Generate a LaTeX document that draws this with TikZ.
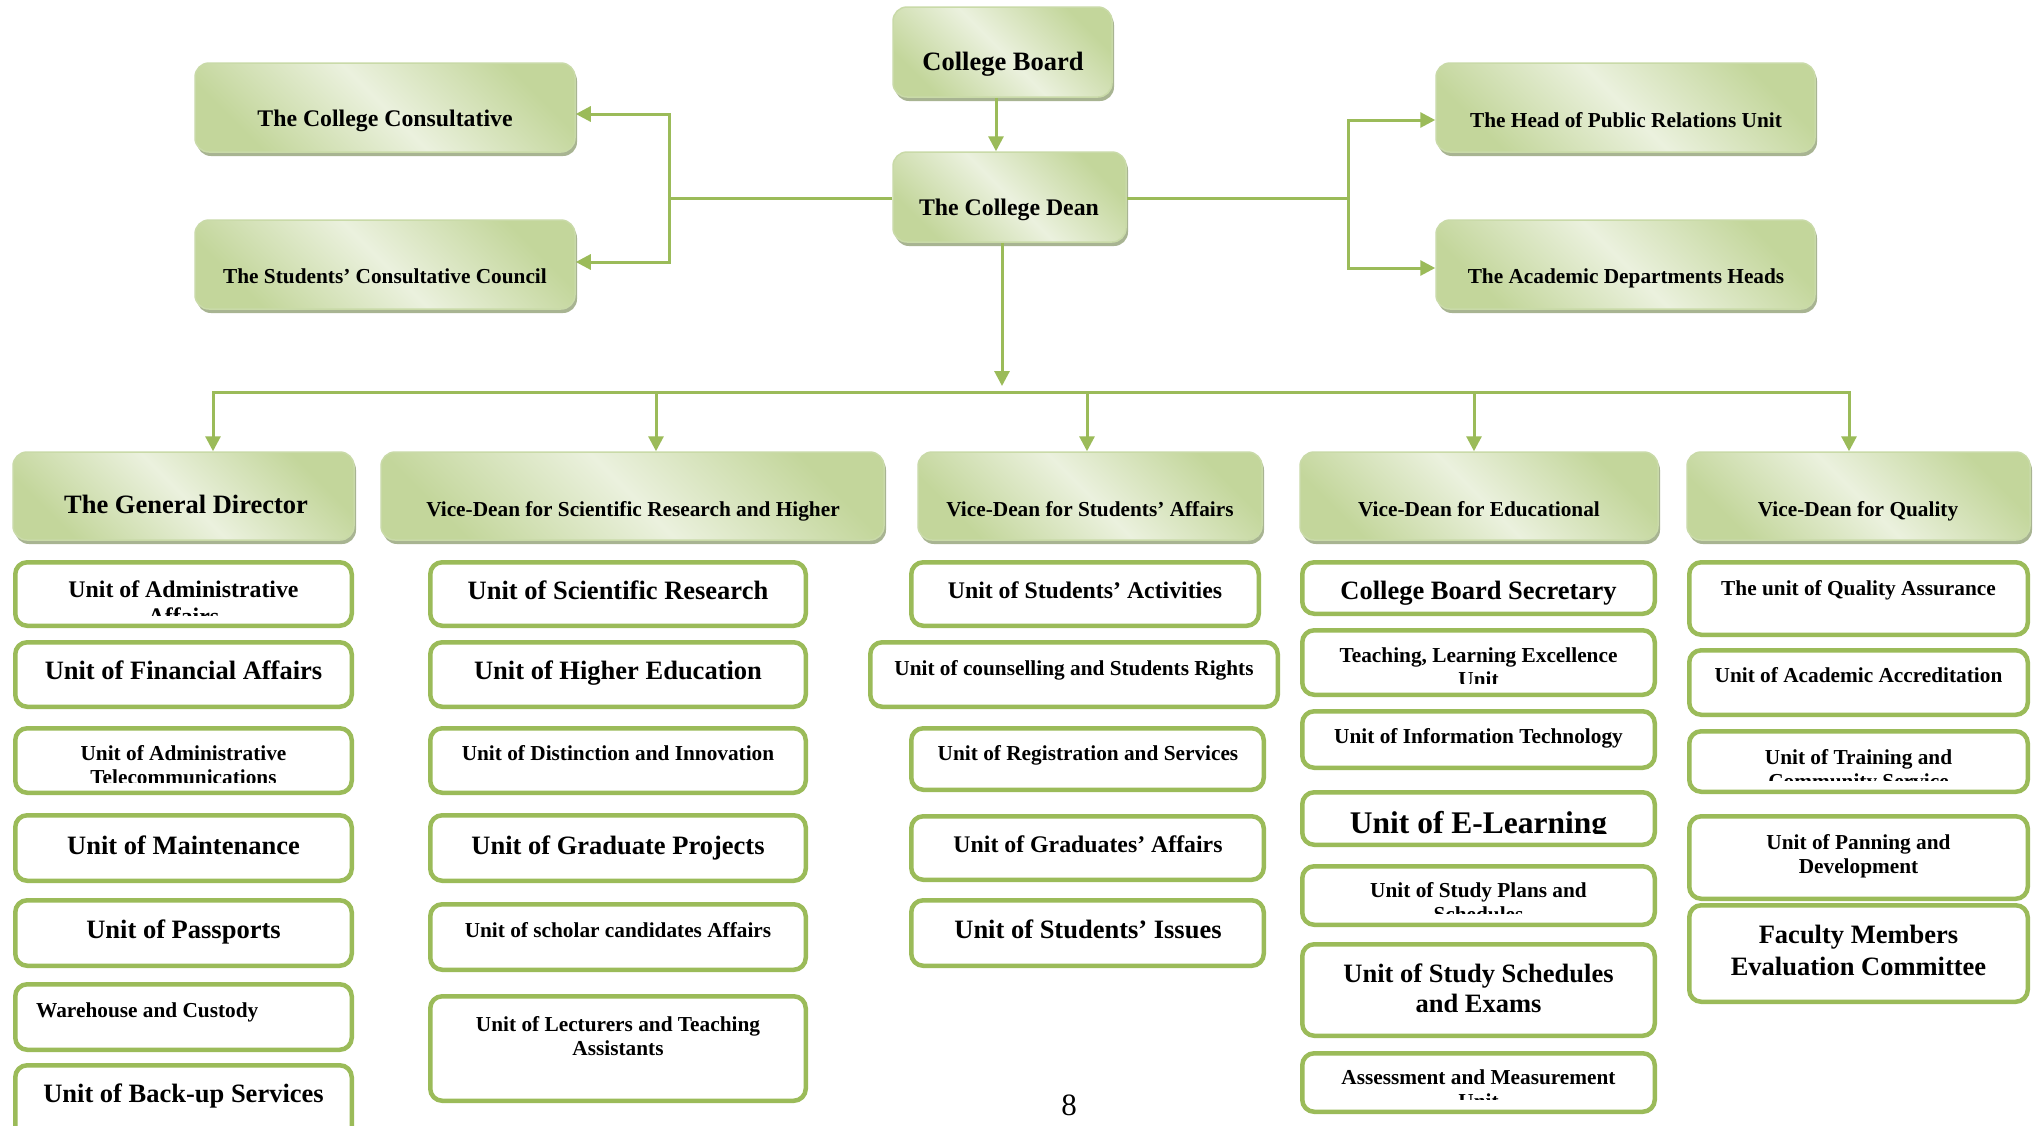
\documentclass[tikz,border=0pt]{standalone}
\usepackage{fontspec}
\setmainfont{Liberation Serif}
\usetikzlibrary{arrows.meta,shadows}
\definecolor{ol}{HTML}{9BBB59}
\definecolor{gdark}{HTML}{C3D69B}
\definecolor{glight}{HTML}{EBF1DE}
\definecolor{gshadow}{HTML}{A8B492}
\definecolor{gedge}{HTML}{C9DAA8}
\pgfdeclareverticalshading{gshade}{100bp}{color(0bp)=(gdark); color(25bp)=(gdark); color(50bp)=(glight); color(75bp)=(gdark); color(100bp)=(gdark)}
\newcommand\twol[2]{\begin{tabular}[t]{@{}c@{}}#1\\#2\end{tabular}}
\newcommand\GB[5]{\node[gbox, minimum width={#4-#2}, minimum height={#5-#3}] (#1) at ({(#2+#4)/2},{(#3+#5)/2}) {};}
\newcommand\WB[5]{\node[wbox, minimum width={#4-#2-4.5}, minimum height={#5-#3-4.5}] (#1) at ({(#2+#4)/2},{(#3+#5)/2}) {};}
\newcommand\TX[5]{\node[txt,#1,anchor=base] (#2) at (#3,#4) {#5};}
\newcommand\CT[9]{\begin{scope}\clip (#6,#7) rectangle (#8,#9);\node[txt,#1,anchor=base] (#2) at (#3,#4) {#5};\end{scope}}
\tikzset{
 conn/.style={draw=ol, line width=3pt},
 arr/.style={conn, -{Triangle[length=15pt,width=15pt]}},
 gbox/.style={rounded corners=14pt, draw=gedge, line width=1.5pt, shade, shading=gshade, shading angle=-45, inner sep=0pt,
   drop shadow={shadow xshift=2pt, shadow yshift=-4pt, fill=gshadow, opacity=1}},
 wbox/.style={rounded corners=12pt, draw=ol, line width=4.5pt, fill=white, inner sep=0pt},
 txt/.style={inner sep=0pt},
 fa/.style={font=\fontsize{21.3}{24.5}\selectfont\bfseries},
 fb/.style={font=\fontsize{23.8}{27}\selectfont\bfseries},
 fc/.style={font=\fontsize{26.5}{30.5}\selectfont\bfseries},
 fe/.style={font=\fontsize{26.5}{32}\selectfont\bfseries},
 fd/.style={font=\fontsize{31.5}{36}\selectfont\bfseries},
}
\begin{document}
\begin{tikzpicture}[x=1pt,y=-1pt]
\useasboundingbox (0,0) rectangle (2038,1125);
\clip (0,0) rectangle (2038,1125);
\fill[white] (0,0) rectangle (2038,1125);

% ---- top level
\GB{board}{893}{7}{1112}{97}
\TX{fc}{boardt}{1003}{70}{College Board}
\GB{dean}{893}{152}{1126}{242}
\TX{fb}{deant}{1009}{215}{The College Dean}
\GB{cons}{195}{63}{575}{152}
\TX{fb}{const}{385}{126}{The College Consultative}
\GB{stud}{195}{220}{575}{309}
\TX{fa}{studt}{385}{283}{The Students’ Consultative Council}
\GB{pr}{1436}{63}{1815}{152}
\TX{fa}{prt}{1626}{127}{The Head of Public Relations Unit}
\GB{acad}{1436}{220}{1815}{309}
\TX{fa}{acadt}{1626}{283}{The Academic Departments Heads}

% ---- second level
\GB{g1}{13}{452}{354}{540}
\TX{fc}{g1t}{186}{513}{The General Director}
\GB{g2}{381}{452}{884}{540}
\TX{fa}{g2t}{633}{516}{Vice-Dean for Scientific Research and Higher}
\GB{g3}{918}{452}{1262}{540}
\TX{fa}{g3t}{1090}{516}{Vice-Dean for Students’ Affairs}
\GB{g4}{1300}{452}{1658}{540}
\TX{fa}{g4t}{1479}{516}{Vice-Dean for Educational}
\GB{g5}{1687}{452}{2030}{540}
\TX{fa}{g5t}{1858}{516}{Vice-Dean for Quality}

% ---- column 1
\WB{a1}{13}{560}{354}{628}
\CT{fb}{a1t}{183.5}{597}{\twol{Unit of Administrative}{Affairs}}{15}{562}{352}{615}
\WB{a2}{13}{640}{354}{709}
\TX{fc}{a2t}{183.5}{679}{Unit of Financial Affairs}
\WB{a3}{13}{726}{354}{795}
\CT{fa}{a3t}{183.5}{760}{\twol{Unit of Administrative}{Telecommunications}}{15}{728}{352}{782}
\WB{a4}{13}{813}{354}{883}
\TX{fc}{a4t}{183.5}{854}{Unit of Maintenance}
\WB{a5}{13}{898}{354}{968}
\TX{fc}{a5t}{183.5}{938}{Unit of Passports}
\WB{a6}{13}{982}{354}{1052}
\node[txt,fa,anchor=base west] (a6t) at (36,1017) {Warehouse and Custody};
\WB{a7}{13}{1063}{354}{1145}
\TX{fc}{a7t}{183.5}{1102}{Unit of Back-up Services}

% ---- column 2
\WB{b1}{428}{560}{808}{628}
\TX{fc}{b1t}{618}{599}{Unit of Scientific Research}
\WB{b2}{428}{640}{808}{709}
\TX{fc}{b2t}{618}{679}{Unit of Higher Education}
\WB{b3}{428}{726}{808}{795}
\TX{fa}{b3t}{618}{760}{Unit of Distinction and Innovation}
\WB{b4}{428}{813}{808}{883}
\TX{fc}{b4t}{618}{854}{Unit of Graduate Projects}
\WB{b5}{428}{902}{808}{972}
\TX{fa}{b5t}{618}{937}{Unit of scholar candidates Affairs}
\WB{b6}{428}{994}{808}{1103}
\TX{fa}{b6t}{618}{1031}{\twol{Unit of Lecturers and Teaching}{Assistants}}

% ---- column 3
\WB{c1}{909}{560}{1261}{628}
\TX{fb}{c1t}{1085}{598}{Unit of Students’ Activities}
\WB{c2}{868}{640}{1280}{709}
\TX{fa}{c2t}{1074}{675}{Unit of counselling and Students Rights}
\WB{c3}{909}{726}{1266}{792}
\TX{fa}{c3t}{1088}{760}{Unit of Registration and Services}
\WB{c4}{909}{814}{1266}{882}
\TX{fb}{c4t}{1088}{852}{Unit of Graduates’ Affairs}
\WB{c5}{909}{898}{1266}{968}
\TX{fc}{c5t}{1088}{938}{Unit of Students’ Issues}

% ---- column 4
\WB{d1}{1300}{560}{1657}{616}
\TX{fc}{d1t}{1478.5}{599}{College Board Secretary}
\WB{d2}{1300}{628}{1657}{697}
\CT{fa}{d2t}{1478.5}{662}{\twol{Teaching, Learning Excellence}{Unit}}{1302}{630}{1655}{683}
\WB{d3}{1300}{709}{1657}{770}
\TX{fa}{d3t}{1478.5}{743}{Unit of Information Technology}
\WB{d4}{1300}{790}{1657}{847}
\CT{fd}{d4t}{1478.5}{833}{Unit of E-Learning}{1302}{792}{1655}{833}
\WB{d5}{1300}{864}{1657}{927}
\CT{fa}{d5t}{1478.5}{897}{\twol{Unit of Study Plans and}{Schedules}}{1302}{866}{1655}{913}
\WB{d6}{1300}{942}{1657}{1038}
\TX{fc}{d6t}{1478.5}{982}{\twol{Unit of Study Schedules}{and Exams}}
\WB{d7}{1300}{1051}{1657}{1114}
\CT{fa}{d7t}{1478.5}{1084}{\twol{Assessment and Measurement}{Unit}}{1302}{1053}{1655}{1099}

% ---- column 5
\WB{e1}{1687}{560}{2030}{637}
\TX{fa}{e1t}{1858.5}{595}{The unit of Quality Assurance}
\WB{e2}{1687}{648}{2030}{717}
\TX{fa}{e2t}{1858.5}{682}{Unit of Academic Accreditation}
\WB{e3}{1687}{729}{2030}{794}
\CT{fa}{e3t}{1858.5}{764}{\twol{Unit of Training and}{Community Service}}{1689}{731}{2028}{780}
\WB{e4}{1687}{814}{2030}{901}
\TX{fa}{e4t}{1858.5}{849}{\twol{Unit of Panning and}{Development}}
\WB{e5}{1687}{903}{2030}{1004}
\TX{fe}{e5t}{1858.5}{943}{\twol{Faculty Members}{Evaluation Committee}}

% ---- page number
\node[txt, font=\fontsize{31}{36}\selectfont, anchor=base] (pg) at (1069,1115) {8};

% ---- connectors
\coordinate (lj) at (669,198);
\coordinate (rj) at (1348,198);
\draw[arr] ([xshift=-6.5pt]board.south) -- ([xshift=-6.5pt]board.south |- dean.north);
\draw[conn] (dean.west |- lj) -- (lj);
\draw[arr] (lj) |- ([yshift=-6.5pt]cons.east);
\draw[arr] (lj) |- ([yshift=2.5pt]stud.east);
\draw[conn] (dean.east |- rj) -- (rj);
\draw[arr] (rj) |- ([yshift=-12.5pt]pr.west);
\draw[arr] (rj) |- ([yshift=-3.5pt]acad.west);

\coordinate (bt) at (1002,386);
\draw[arr] (dean.south -| bt) -- (bt);
\coordinate (k1) at (213,392);
\coordinate (k2) at (656,392);
\coordinate (k3) at (1087,392);
\coordinate (k4) at (1474,392);
\coordinate (k5) at (1849,392);
\draw[conn, line cap=rect] (k1) -- (k5);
\draw[arr] (k1) -- (k1 |- g1.north);
\draw[arr] (k2) -- (k2 |- g2.north);
\draw[arr] (k3) -- (k3 |- g3.north);
\draw[arr] (k4) -- (k4 |- g4.north);
\draw[arr] (k5) -- (k5 |- g5.north);
\end{tikzpicture}
\end{document}
